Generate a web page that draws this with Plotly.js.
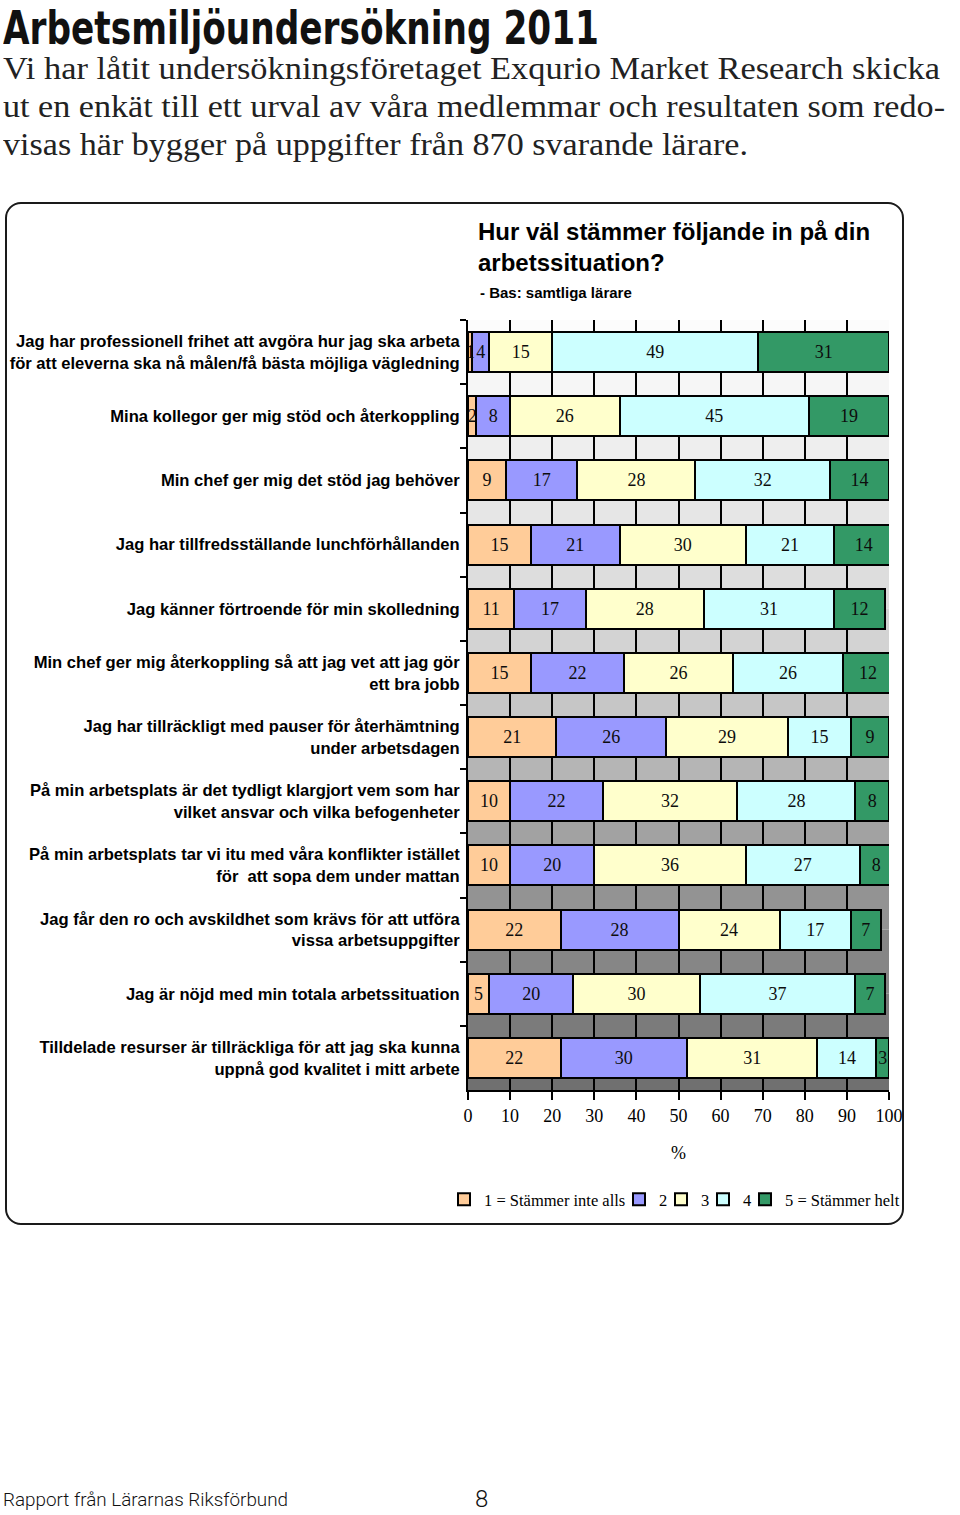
<!DOCTYPE html>
<html>
<head>
<meta charset="utf-8">
<script src="https://cdn.plot.ly/plotly-3.0.1.min.js"></script>
<style>
  html, body { margin:0; padding:0; background:#fff; }
  body { width:960px; height:1515px; position:relative; overflow:hidden; }
  .fit { position:absolute; white-space:nowrap; transform-origin:left top; display:inline-block; }
  #frame { position:absolute; left:5px; top:202px; width:899px; height:1023px; box-sizing:border-box;
           border:2px solid #1a1a1a; border-radius:16px; }
  #chart { position:absolute; left:0; top:0; width:960px; height:1515px; }
</style>
</head>
<body>
<div id="h1" class="fit" data-w="596" style="left:3px;top:3px;font-family:'DejaVu Sans Condensed','DejaVu Sans';font-weight:bold;font-size:46px;line-height:50px;color:#111;">Arbetsmiljöundersökning 2011</div>
<div class="fit body" data-w="937" style="left:3px;top:50px;">Vi har låtit undersökningsföretaget Exqurio Market Research skicka</div>
<div class="fit body" data-w="942" style="left:3px;top:88px;">ut en enkät till ett urval av våra medlemmar och resultaten som redo-</div>
<div class="fit body" data-w="745" style="left:3px;top:126px;">visas här bygger på uppgifter från 870 svarande lärare.</div>
<div id="frame"></div>
<div id="chart"></div>
<div class="fit" data-w="285" style="left:3px;top:1490px;font-family:Roboto,'DejaVu Sans';font-weight:300;font-size:19px;line-height:20px;color:#111;">Rapport från Lärarnas Riksförbund</div>
<div class="fit" style="left:475px;top:1487px;font-family:Roboto,'DejaVu Sans';font-weight:300;font-size:24px;line-height:24px;color:#111;">8</div>
<script>
// ---------- data ----------
const categories = [
  "Jag har professionell frihet att avgöra hur jag ska arbeta<br>för att eleverna ska nå målen/få bästa möjliga vägledning",
  "Mina kollegor ger mig stöd och återkoppling",
  "Min chef ger mig det stöd jag behöver",
  "Jag har tillfredsställande lunchförhållanden",
  "Jag känner förtroende för min skolledning",
  "Min chef ger mig återkoppling så att jag vet att jag gör<br>ett bra jobb",
  "Jag har tillräckligt med pauser för återhämtning<br>under arbetsdagen",
  "På min arbetsplats är det tydligt klargjort vem som har<br>vilket ansvar och vilka befogenheter",
  "På min arbetsplats tar vi itu med våra konflikter istället<br>för  att sopa dem under mattan",
  "Jag får den ro och avskildhet som krävs för att utföra<br>vissa arbetsuppgifter",
  "Jag är nöjd med min totala arbetssituation",
  "Tilldelade resurser är tillräckliga för att jag ska kunna<br>uppnå god kvalitet i mitt arbete"
];
const s1 = [1, 2, 9, 15, 11, 15, 21, 10, 10, 22, 5, 22];
const s2 = [4, 8, 17, 21, 17, 22, 26, 22, 20, 28, 20, 30];
const s3 = [15, 26, 28, 30, 28, 26, 29, 32, 36, 24, 30, 31];
const s4 = [49, 45, 32, 21, 31, 26, 15, 28, 27, 17, 37, 14];
const s5 = [31, 19, 14, 14, 12, 12, 9, 8, 8, 7, 7, 3];
const seriesNames = ["1 = Stämmer inte alls", "2", "3", "4", "5 = Stämmer helt"];
const xTicks = [0, 10, 20, 30, 40, 50, 60, 70, 80, 90, 100];

// ---------- style ----------
const seriesColors = ["#FFCC99", "#9999FF", "#FFFFCC", "#CCFFFF", "#339966"];
const stripeColors = ["#fcfcfc", "#f6f6f6", "#eeeeee", "#e6e6e6", "#dddddd", "#d3d3d3",
                      "#c6c6c6", "#b5b5b5", "#a2a2a2", "#939393", "#868686", "#7b7b7b", "#707070"];
const legendLeftPx = [444, 619, 661, 703, 745];   // left edge of each legend entry box
const valueFont = { family: 'Liberation Serif', size: 18, color: '#0d0d0d' };
const PLOT_L = 468, PLOT_W = 421;

document.querySelectorAll('.body').forEach(el => {
  el.style.fontFamily = "'Liberation Serif', 'DejaVu Serif', serif";
  el.style.fontSize = "31px"; el.style.lineHeight = "38px"; el.style.color = "#222";
});
document.querySelectorAll('.fit[data-w]').forEach(el => {
  const w = el.getBoundingClientRect().width;
  el.style.transform = 'scaleX(' + (parseFloat(el.dataset.w) / w) + ')';
});

const allSeries = [s1, s2, s3, s4, s5];
const legendIds = allSeries.map((_, i) => i === 0 ? 'legend' : 'legend' + (i + 1));
const NARROW = 1.5; // bars too thin for Plotly to place their inside label
const traces = allSeries.map((vals, i) => ({
  type: 'bar', orientation: 'h',
  y: categories, x: vals, name: seriesNames[i], legend: legendIds[i],
  marker: { color: seriesColors[i], line: { color: '#000', width: 2 } },
  text: vals.map(v => v < NARROW ? '' : String(v)),
  textposition: 'inside', insidetextanchor: 'middle',
  constraintext: 'none', textangle: 0,
  textfont: valueFont,
  hoverinfo: 'skip'
}));

// labels for the very thin bars, placed at the bar's middle on the data axes
const annotations = [];
allSeries.forEach((vals, i) => {
  vals.forEach((v, j) => {
    if (v < NARROW) {
      let start = 0;
      for (let p = 0; p < i; p++) start += allSeries[p][j];
      annotations.push({ x: start + v / 2, y: categories[j], xref: 'x', yref: 'y',
        text: String(v), showarrow: false, font: valueFont });
    }
  });
});
annotations.push({
  text: '- Bas: samtliga lärare', showarrow: false,
  xref: 'paper', x: 10 / PLOT_W, xanchor: 'left',
  yref: 'paper', y: (1090 - 292) / 770, yanchor: 'middle',
  font: { family: 'Liberation Sans', size: 15, weight: 'bold', color: '#000' }
});

const nCat = categories.length;
const shapes = stripeColors.map((c, k) => ({
  type: 'rect', layer: 'below', xref: 'x', yref: 'y',
  x0: 0, x1: 100, y0: Math.max(k - 1, -0.5), y1: Math.min(k, nCat - 0.5),
  fillcolor: c, line: { width: 0 }
}));

const layout = {
  width: 960, height: 1515,
  margin: { l: PLOT_L, r: 960 - PLOT_L - PLOT_W, t: 320, b: 425 },
  paper_bgcolor: 'rgba(0,0,0,0)', plot_bgcolor: '#ffffff',
  barmode: 'stack', bargap: 0.375,
  showlegend: true,
  title: {
    text: 'Hur väl stämmer följande in på din<br>arbetssituation?',
    font: { family: 'Liberation Sans', size: 24, weight: 'bold', color: '#000' },
    xref: 'container', x: 478 / 960, xanchor: 'left',
    yref: 'container', y: 1 - 240 / 1515, yanchor: 'top'
  },
  annotations: annotations,
  xaxis: {
    range: [0, 100], tickmode: 'array', tickvals: xTicks, ticktext: xTicks.map(String),
    ticks: 'outside', ticklen: 8, tickwidth: 2, tickcolor: '#000',
    showgrid: true, gridcolor: '#000', gridwidth: 2, zeroline: false,
    showline: true, linecolor: '#000', linewidth: 2, mirror: false,
    tickfont: { family: 'Liberation Serif', size: 18, color: '#000' },
    title: { text: '%', font: { family: 'Liberation Serif', size: 18, color: '#000' }, standoff: 22 },
    automargin: false, fixedrange: true
  },
  yaxis: {
    type: 'category', range: [nCat - 0.5, -0.5], autorange: false,
    ticks: 'outside', tickson: 'boundaries', ticklen: 6, tickwidth: 2, tickcolor: '#000',
    showline: true, linecolor: '#000', linewidth: 2, showgrid: false, zeroline: false,
    tickfont: { family: 'Liberation Sans', size: 16.6, weight: 'bold', color: '#000' },
    ticklabelstandoff: 3,
    automargin: false, fixedrange: true
  },
  shapes: shapes
};
legendIds.forEach((id, i) => {
  layout[id] = {
    orientation: 'h',
    xref: 'paper', x: (legendLeftPx[i] - PLOT_L) / PLOT_W, xanchor: 'left',
    yref: 'container', y: 1 - 1182 / 1515, yanchor: 'top',
    font: { family: 'Liberation Serif', size: 16.5, color: '#000' },
    bgcolor: 'rgba(0,0,0,0)', borderwidth: 0
  };
});

Plotly.newPlot('chart', traces, layout, { displayModeBar: false, staticPlot: true });
</script>
</body>
</html>
